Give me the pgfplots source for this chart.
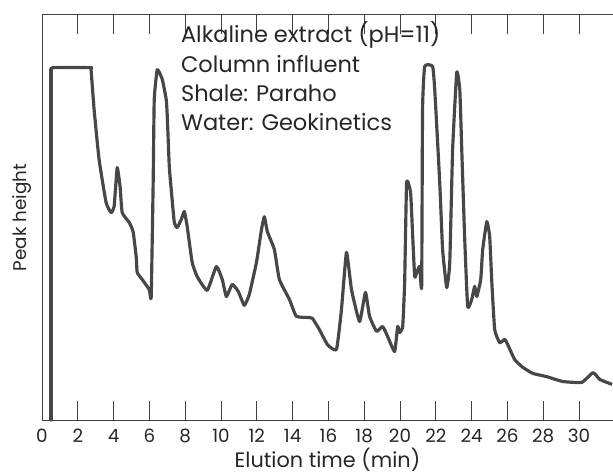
\documentclass[border=0pt]{standalone}
\usepackage{pgfplots}
\pgfplotsset{compat=1.18}
\usepackage{fontspec}
\setmainfont{Poppins}
\usetikzlibrary{calc}

% elution trace (time in min, height in % of frame)
\pgfplotstableread{
t v
0.50 86.5
0.60 87.0
2.70 87.0
2.74 86.5
2.91 76.7
3.19 64.3
3.58 53.7
3.86 51.2
4.03 52.7
4.20 62.3
4.36 57.7
4.48 51.2
4.87 48.8
5.09 46.5
5.26 40.4
5.32 36.4
5.60 34.7
5.99 32.2
6.10 30.5
6.21 58.6
6.27 79.1
6.44 86.5
6.72 84.1
6.94 79.1
7.00 74.9
7.11 62.6
7.22 56.9
7.39 48.8
7.55 47.5
7.78 49.5
7.95 51.5
8.11 47.8
8.39 38.9
8.67 35.4
9.23 32.0
9.74 37.9
10.07 34.7
10.30 30.5
10.63 33.5
10.97 31.7
11.30 28.3
11.58 31.0
11.98 38.9
12.26 47.0
12.42 50.2
12.59 46.5
12.98 42.1
13.26 34.7
13.82 29.8
14.21 25.6
14.94 25.3
15.11 25.1
15.50 22.3
15.95 18.6
16.45 17.4
16.73 27.3
17.01 41.4
17.29 32.2
17.74 24.3
18.07 31.5
18.30 25.6
18.69 21.9
19.03 23.1
19.31 20.6
19.70 16.9
19.87 23.1
19.98 21.6
20.15 23.1
20.26 34.0
20.37 58.6
20.59 56.2
20.71 45.3
20.82 35.4
20.93 36.4
21.10 37.9
21.21 33.0
21.26 76.7
21.38 87.3
21.82 87.3
21.94 81.6
22.22 58.6
22.38 42.1
22.61 32.7
22.78 38.9
22.94 66.8
23.17 85.8
23.34 81.6
23.45 66.8
23.61 45.3
23.78 28.0
24.01 29.8
24.17 33.0
24.29 30.5
24.51 34.7
24.62 42.1
24.85 49.0
25.01 45.3
25.13 34.0
25.29 22.3
25.57 19.1
25.85 19.9
26.02 18.6
26.41 14.9
26.86 13.0
27.42 11.5
28.20 10.7
29.10 9.5
30.16 9.3
30.78 11.7
31.17 10.0
31.84 8.8
}\trace

\begin{document}
\begin{tikzpicture}
\begin{axis}[
    name=ax,
    scale only axis,
    width=342.6pt, height=243pt,
    xmin=0, xmax=31.9, ymin=0, ymax=100,
    axis line style={black!75, line width=0.6pt},
    xtick={0,2,...,30},
    ytick=\empty,
    tick pos=both,
    xticklabel pos=bottom,
    tick align=inside,
    major tick length=11.5pt,
    tick style={black!75, line width=0.6pt},
    ticklabel style={font=\fontsize{11}{13}\selectfont, black!85},
    /pgf/number format/assume math mode=true,
    xticklabel style={yshift=-2pt},
    xlabel={Elution time (min)},
    ylabel={Peak height},
    xlabel style={font=\fontsize{12.5}{15}\selectfont, black!85, yshift=4pt},
    ylabel style={font=\fontsize{11}{13}\selectfont, black!85, yshift=3pt},
    clip=false,
  ]
  % injection front: straight rise from the baseline
  \addplot[black!72, line width=1.9pt, line cap=round]
    coordinates {(0.50,0) (0.50,86.5)};
  \addplot[black!72, line width=1.9pt, line join=round, smooth, tension=0.25]
    table[x=t, y=v] {\trace};
  \begin{scope}[every node/.style={anchor=base west, inner sep=0pt,
        font=\fontsize{13.5}{16}\selectfont, black!85}]
    \node at (axis cs:7.75,93.2) {Alkaline extract (pH=11)};
    \node at (axis cs:7.75,85.8) {Column influent};
    \node at (axis cs:7.75,78.6) {Shale: Paraho};
    \node at (axis cs:7.75,71.5) {Water: Geokinetics};
  \end{scope}
\end{axis}
\pgfresetboundingbox
\path ($(ax.south west)+(-25.2pt,-33.3pt)$) rectangle ($(ax.north east)+(0pt,9pt)$);
\end{tikzpicture}
\end{document}
